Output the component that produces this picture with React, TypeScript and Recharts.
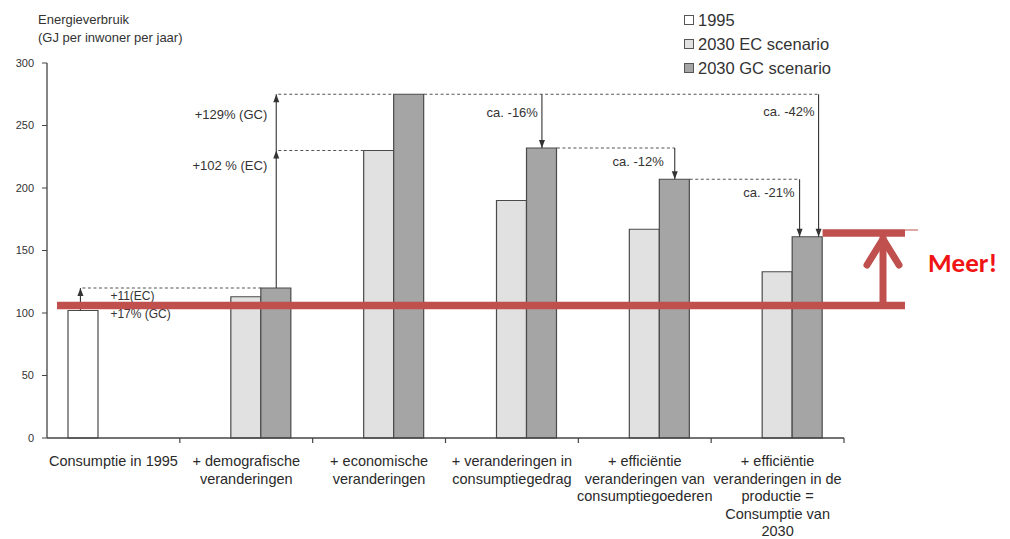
import React from "react";
import { BarChart, Bar, XAxis, YAxis } from "recharts";

const categoryLines = [
  ["Consumptie in 1995"],
  ["+ demografische", "veranderingen"],
  ["+ economische", "veranderingen"],
  ["+ veranderingen in", "consumptiegedrag"],
  ["+ efficiëntie", "veranderingen van", "consumptiegoederen"],
  ["+ efficiëntie", "veranderingen in de", "productie =", "Consumptie van", "2030"],
];
const categories = categoryLines.map((l) => l.join(" "));

const values1995 = [102, null, null, null, null, null];
const valuesEC = [null, 113, 230, 190, 167, 133];
const valuesGC = [null, 120, 275, 232, 207, 161];
const yTicks = [0, 50, 100, 150, 200, 250, 300];

const legendItems = [
  { label: "1995", fill: "#ffffff" },
  { label: "2030 EC scenario", fill: "#e1e1e1" },
  { label: "2030 GC scenario", fill: "#a5a5a5" },
];

// "Meer!" markers, in GJ
const redBase = 106;
const redTop = 164;

const data = categories.map((name, i) => ({
  name,
  y1995: values1995[i],
  ec: valuesEC[i],
  gc: valuesGC[i],
}));

const W = 1010;
const H = 539;
const LEFT = 47;
const RIGHT = 844;
const TOP = 63;
const BOTTOM = 438;
const BAR = 30;
const Y_MAX = 300;

const band = (RIGHT - LEFT) / categories.length;
const slotLeft = (i: number, s: number) => LEFT + i * band + (band - 3 * BAR) / 2 + s * BAR;
const yOf = (v: number) => BOTTOM - (v / Y_MAX) * (BOTTOM - TOP);

const INK = "#333";
const RED = "#c0504d";
const FONT = "'Liberation Sans', Arial, sans-serif";

function CategoryTick(props: any) {
  const { x, payload } = props;
  const lines = categoryLines[categories.indexOf(payload.value)] || [payload.value];
  return (
    <text x={x} y={BOTTOM + 28} textAnchor="middle" fontSize={14.5} fill="#2a2a2a" fontFamily={FONT}>
      {lines.map((l, k) => (
        <tspan key={k} x={x} dy={k === 0 ? 0 : 17.6}>
          {l}
        </tspan>
      ))}
    </text>
  );
}

function Head({ x, y, dir }: { x: number; y: number; dir: "up" | "down" }) {
  const d = dir === "up" ? -1 : 1;
  return <path d={`M${x},${y} L${x - 3},${y - d * 8} L${x + 3},${y - d * 8} Z`} fill={INK} />;
}

function Dash({ x1, x2, y }: { x1: number; x2: number; y: number }) {
  return <line x1={x1} x2={x2} y1={y} y2={y} stroke="#555" strokeWidth={1.1} strokeDasharray="3 2.5" />;
}

function Note({ x, y, text, anchor = "end", size = 13 }: any) {
  return (
    <text x={x} y={y} textAnchor={anchor} fontSize={size} fill={INK} fontFamily={FONT}>
      {text}
    </text>
  );
}

function Overlay() {
  const x1 = slotLeft(0, 0) + 12;
  const x2 = slotLeft(1, 2) + 15;
  const x3 = slotLeft(3, 2) + 15;
  const x4 = slotLeft(4, 2) + 15;
  const x5 = slotLeft(5, 2) + 7;
  const x6 = slotLeft(5, 2) + 26;
  const v = (a: (number | null)[], i: number) => a[i] as number;
  const ticksX = categories.map((_, i) => LEFT + (i + 1) * band);
  const yBase = yOf(redBase);
  const yTop = yOf(redTop);
  const xr = 883;

  return (
    <svg width={W} height={H} style={{ position: "absolute", left: 0, top: 0, pointerEvents: "none" }}>
      {/* category boundary ticks */}
      {ticksX.map((tx, i) => (
        <line key={i} x1={tx} x2={tx} y1={BOTTOM} y2={BOTTOM + 5} stroke="#444" strokeWidth={1.2} />
      ))}

      {/* demographic step */}
      <line x1={x1} x2={x1} y1={yOf(v(values1995, 0))} y2={yOf(v(valuesGC, 1))} stroke={INK} strokeWidth={1.1} />
      <Head x={x1} y={yOf(v(valuesGC, 1))} dir="up" />
      <Dash x1={x1 + 2} x2={slotLeft(1, 2)} y={yOf(v(valuesGC, 1))} />
      <Note x={x1 + 30} y={yOf(v(valuesGC, 1)) + 12} text="+11(EC)" anchor="start" size={12} />
      <Note x={x1 + 30} y={yOf(v(valuesGC, 1)) + 30} text="+17% (GC)" anchor="start" size={12} />

      {/* economic step */}
      <line x1={x2} x2={x2} y1={yOf(v(valuesGC, 1))} y2={yOf(v(valuesGC, 2))} stroke={INK} strokeWidth={1.1} />
      <Head x={x2} y={yOf(v(valuesEC, 2))} dir="up" />
      <Head x={x2} y={yOf(v(valuesGC, 2))} dir="up" />
      <Dash x1={x2 + 2} x2={slotLeft(2, 1)} y={yOf(v(valuesEC, 2))} />
      <Dash x1={x2 + 2} x2={slotLeft(2, 2)} y={yOf(v(valuesGC, 2))} />
      <Dash x1={slotLeft(2, 3)} x2={x6} y={yOf(v(valuesGC, 2))} />
      <Note x={x2 - 9} y={yOf(v(valuesGC, 2)) + 25} text="+129% (GC)" />
      <Note x={x2 - 9} y={yOf(v(valuesEC, 2)) + 19} text="+102 % (EC)" />

      {/* behaviour step */}
      <line x1={x3} x2={x3} y1={yOf(v(valuesGC, 2))} y2={yOf(v(valuesGC, 3))} stroke={INK} strokeWidth={1.1} />
      <Head x={x3} y={yOf(v(valuesGC, 3))} dir="down" />
      <Note x={x3 - 4} y={yOf(v(valuesGC, 2)) + 23} text="ca. -16%" />
      <Dash x1={slotLeft(3, 3)} x2={x4} y={yOf(v(valuesGC, 3))} />

      {/* consumer goods efficiency */}
      <line x1={x4} x2={x4} y1={yOf(v(valuesGC, 3))} y2={yOf(v(valuesGC, 4))} stroke={INK} strokeWidth={1.1} />
      <Head x={x4} y={yOf(v(valuesGC, 4))} dir="down" />
      <Note x={x4 - 11} y={yOf(v(valuesGC, 3)) + 18} text="ca. -12%" />
      <Dash x1={slotLeft(4, 3)} x2={x5} y={yOf(v(valuesGC, 4))} />

      {/* production efficiency */}
      <line x1={x5} x2={x5} y1={yOf(v(valuesGC, 4))} y2={yOf(v(valuesGC, 5))} stroke={INK} strokeWidth={1.1} />
      <Head x={x5} y={yOf(v(valuesGC, 5))} dir="down" />
      <Note x={x5 - 5} y={yOf(v(valuesGC, 4)) + 18} text="ca. -21%" />
      <line x1={x6} x2={x6} y1={yOf(v(valuesGC, 2))} y2={yOf(v(valuesGC, 5))} stroke={INK} strokeWidth={1.1} />
      <Head x={x6} y={yOf(v(valuesGC, 5))} dir="down" />
      <Note x={x6 - 4} y={yOf(v(valuesGC, 2)) + 22} text="ca. -42%" />

      {/* red emphasis */}
      <line x1={57} x2={905} y1={yBase} y2={yBase} stroke={RED} strokeWidth={7.5} />
      <line x1={slotLeft(5, 3)} x2={905} y1={yTop} y2={yTop} stroke={RED} strokeWidth={7.5} />
      <line x1={905} x2={918} y1={yTop - 3} y2={yTop - 3} stroke={RED} strokeWidth={1} />
      <polyline
        points={`${xr},${yBase} ${xr},${yTop + 5}`}
        stroke={RED}
        strokeWidth={7}
        fill="none"
        strokeLinecap="round"
      />
      <polyline
        points={`${xr - 16},${yTop + 32} ${xr},${yTop + 6} ${xr + 16},${yTop + 32}`}
        stroke={RED}
        strokeWidth={7}
        fill="none"
        strokeLinecap="round"
        strokeLinejoin="round"
      />
      <text x={928} y={272} fontSize={27} fontWeight="bold" fill="#f01414" fontFamily="Carlito, 'Liberation Sans', Arial, sans-serif">
        Meer!
      </text>
    </svg>
  );
}

export default function App() {
  return (
    <div style={{ position: "absolute", left: 0, top: 0, width: W, height: H, background: "#fff", fontFamily: FONT }}>
      <div style={{ position: "absolute", left: 38, top: 11, fontSize: 13, lineHeight: "18px", color: "#333" }}>
        <div>Energieverbruik</div>
        <div>(GJ per inwoner per jaar)</div>
      </div>

      <div style={{ position: "absolute", left: 684, top: 8 }}>
        {legendItems.map((it) => (
          <div key={it.label} style={{ display: "flex", alignItems: "center", height: 24, fontSize: 16.5, color: "#333" }}>
            <span
              style={{
                width: 8,
                height: 8,
                border: "1.3px solid #555",
                background: it.fill,
                marginRight: 4,
                display: "inline-block",
              }}
            />
            {it.label}
          </div>
        ))}
      </div>

      <BarChart
        width={W}
        height={H}
        data={data}
        margin={{ top: TOP, right: W - RIGHT, bottom: 0, left: LEFT - 40 }}
        barSize={BAR}
        barGap={0}
      >
        <XAxis
          dataKey="name"
          tick={<CategoryTick />}
          tickLine={false}
          axisLine={{ stroke: "#444", strokeWidth: 1.3 }}
          interval={0}
          height={H - BOTTOM}
        />
        <YAxis
          width={40}
          domain={[0, Y_MAX]}
          ticks={yTicks}
          tickSize={5}
          tickMargin={8}
          tick={{ fontSize: 11, fill: "#333", fontFamily: FONT }}
          tickLine={{ stroke: "#444" }}
          axisLine={{ stroke: "#444", strokeWidth: 1.3 }}
        />
        <Bar dataKey="y1995" fill="#ffffff" stroke="#4a4a4a" strokeWidth={1.2} isAnimationActive={false} />
        <Bar dataKey="ec" fill="#e1e1e1" stroke="#4a4a4a" strokeWidth={1.2} isAnimationActive={false} />
        <Bar dataKey="gc" fill="#a5a5a5" stroke="#4a4a4a" strokeWidth={1.2} isAnimationActive={false} />
      </BarChart>

      <Overlay />
    </div>
  );
}
